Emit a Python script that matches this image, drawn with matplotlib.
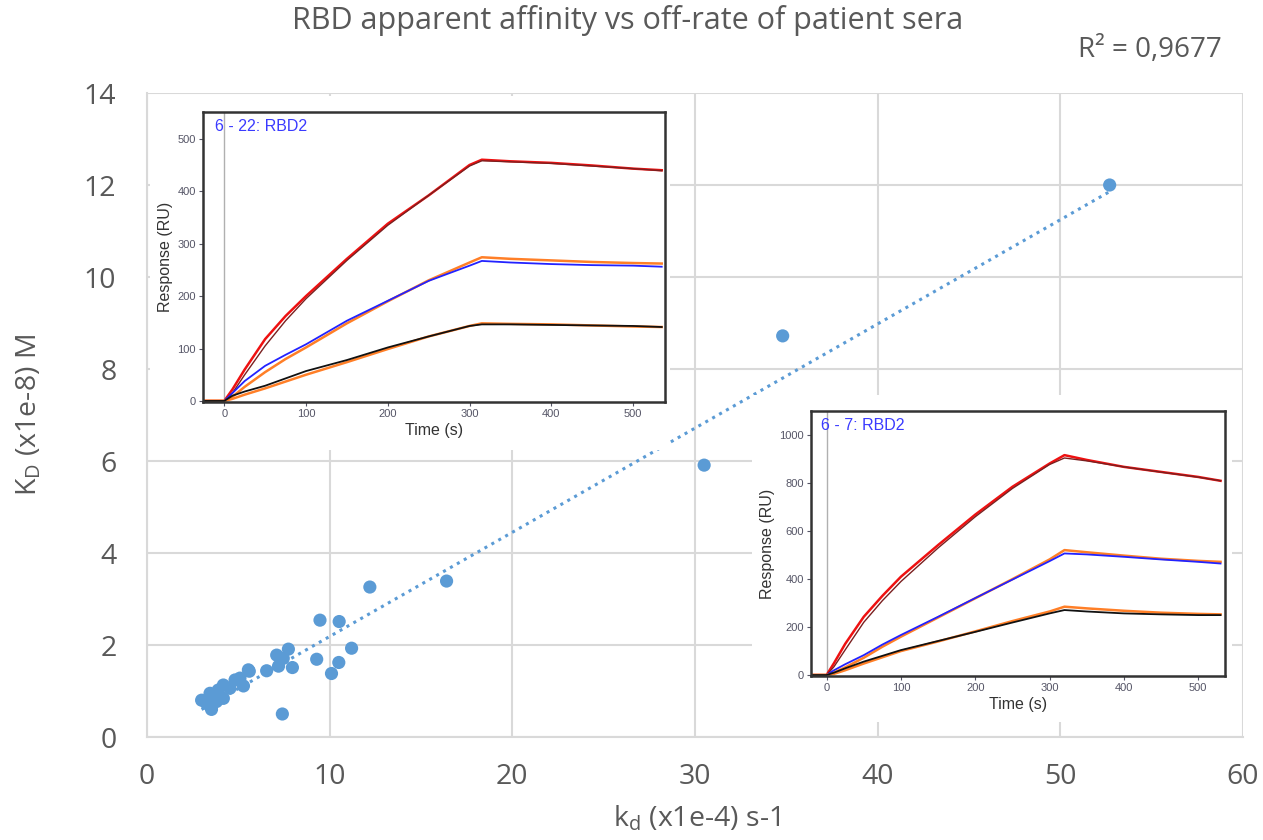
import numpy as np
import matplotlib
matplotlib.use("Agg")
import matplotlib.pyplot as plt

plt.rcParams['font.family'] = ['Open Sans', 'DejaVu Sans']
plt.rcParams['mathtext.fontset'] = 'custom'
plt.rcParams['mathtext.rm'] = 'Open Sans'
plt.rcParams['mathtext.it'] = 'Open Sans:italic'

# ---- main scatter data: kd (x1e-4 s-1) vs KD (x1e-8 M)
kd = [52.7, 34.8, 30.5, 16.4, 12.2, 9.47, 10.52, 11.2, 9.29, 10.5, 10.1, 7.96,
      7.74, 7.1, 7.46, 7.2, 6.55, 7.41, 5.55, 5.28, 4.82, 4.18, 3.9, 4.18,
      3.45, 2.99, 3.26, 3.53, 3.8, 4.54, 5.09, 5.6]
KD = [12.0, 8.72, 5.91, 3.39, 3.26, 2.54, 2.51, 1.93, 1.69, 1.62, 1.38, 1.51,
      1.91, 1.78, 1.71, 1.54, 1.44, 0.50, 1.46, 1.11, 1.24, 1.13, 1.02, 0.84,
      0.95, 0.80, 0.73, 0.60, 0.77, 1.06, 1.28, 1.43]
r2_text = "R² = 0,9677"

# ---- inset 1 sensorgram (6 - 22: RBD2)
t1 = [-25, 0, 10, 25, 50, 75, 100, 150, 200, 250, 300, 315, 350, 400, 450, 500, 535]
i1_red = [0, 0, 22, 60, 118, 162, 200, 271, 338, 392, 450, 460, 457, 454, 449, 443, 440]
i1_redfit = [0, 0, 15, 50, 105, 153, 195, 268, 335, 392, 448, 458, 456, 453, 448, 443, 439]
i1_blue = [0, 0, 15, 38, 67, 88, 108, 153, 191, 229, 258, 267, 264, 261, 259, 258, 256]
i1_bluefit = [0, 0, 8, 27, 55, 80, 102, 148, 190, 230, 264, 274, 271, 268, 265, 263, 262]
i1_black = [0, 0, 10, 18, 29, 43, 57, 78, 102, 123, 143, 146, 146, 145, 144, 143, 141]
i1_blackfit = [0, 0, 4, 12, 24, 37, 50, 74, 99, 123, 143, 148, 147, 146, 144, 142, 141]

# ---- inset 2 sensorgram (6 - 7: RBD2)
t2 = [-20, 0, 10, 25, 50, 75, 100, 150, 200, 250, 300, 320, 350, 400, 450, 500, 530]
i2_red = [0, 0, 50, 130, 243, 330, 410, 542, 669, 785, 882, 917, 897, 868, 847, 826, 810]
i2_redfit = [0, 0, 35, 105, 220, 310, 390, 530, 660, 778, 878, 905, 893, 868, 846, 825, 810]
i2_blue = [0, 0, 20, 45, 83, 127, 167, 243, 321, 398, 475, 507, 503, 493, 482, 472, 465]
i2_bluefit = [0, 0, 10, 32, 72, 118, 160, 240, 320, 400, 482, 521, 512, 498, 485, 476, 472]
i2_black = [0, 0, 10, 28, 56, 80, 104, 142, 180, 219, 257, 271, 265, 257, 253, 250, 250]
i2_blackfit = [0, 0, 5, 20, 48, 74, 100, 140, 182, 225, 265, 285, 278, 268, 260, 255, 253]

W, H = 1263, 840
fig = plt.figure(figsize=(W / 100, H / 100), dpi=100)

def px_axes(l, t, r, b, **kw):
    return fig.add_axes([l / W, (H - b) / H, (r - l) / W, (b - t) / H], **kw)

txt = '#595959'
grid = '#d9d9d9'
blue_pt = '#5B9BD5'

ax = px_axes(147, 93, 1243, 737)
ax.set_xlim(0, 60)
ax.set_ylim(0, 14)
ax.set_xticks(range(0, 61, 10))
ax.set_yticks(range(0, 15, 2))
ax.grid(True, color=grid, lw=1.5)
ax.set_axisbelow(True)
for s in ['top', 'right']:
    ax.spines[s].set_visible(False)
for s in ['left', 'bottom']:
    ax.spines[s].set_color(grid)
    ax.spines[s].set_linewidth(1.5)
ax.tick_params(length=0, labelsize=20.5, colors=txt)
ax.tick_params(axis='x', pad=19)
ax.tick_params(axis='y', pad=22)
ax.scatter(kd, KD, s=90, color=blue_pt, zorder=3, edgecolors='none')
coef = np.polyfit(kd, KD, 1)
xs = np.array([min(kd), max(kd)])
ax.plot(xs, np.polyval(coef, xs), ls=(0, (1, 1.6)), color=blue_pt, lw=2.2, zorder=2)
ax.set_xlabel(r'k$_\mathrm{d}$ (x1e-4) s-1', fontsize=20.5, color=txt)
ax.set_ylabel(r'K$_\mathrm{D}$ (x1e-8) M', fontsize=20.5, color=txt)
ax.xaxis.set_label_coords((697 - 147) / 1096, -(804 - 737) / 644)
ax.yaxis.set_label_coords(-(147 - 44) / 1096, 0.5)
fig.text(628 / W, 1 - 21 / H, 'RBD apparent affinity vs off-rate of patient sera',
         ha='center', va='center', fontsize=22, color=txt)
fig.text(1222 / W, 1 - 50 / H, r2_text, ha='right', va='center', fontsize=20, color=txt)

def inset(bg, box, t, series, ylim, xlim, yticks, title):
    bgax = px_axes(*bg)
    bgax.set_facecolor('white')
    bgax.set_xticks([]); bgax.set_yticks([])
    for s in bgax.spines.values():
        s.set_visible(False)
    a = px_axes(*box)
    a.set_xlim(*xlim)
    a.set_ylim(*ylim)
    a.set_yticks(yticks)
    a.set_xticks(range(0, 501, 100))
    a.axvline(0, color='#b0b0b0', lw=1, zorder=1)
    for y, c, lw in series:
        a.plot(t, y, color=c, lw=lw, zorder=2)
    for s in a.spines.values():
        s.set_color('#333333')
        s.set_linewidth(1.8)
    a.tick_params(labelsize=8, colors='#555566', length=3, width=0.8, pad=2)
    a.set_xlabel('Time (s)', fontsize=11.5, family=['Liberation Sans'], color='#333333', labelpad=3)
    a.set_ylabel('Response (RU)', fontsize=11.5, family=['Liberation Sans'], color='#333333', labelpad=3)
    for lab in a.get_xticklabels() + a.get_yticklabels():
        lab.set_family(['Liberation Sans'])
    a.text(0.025, 0.975, title, transform=a.transAxes, ha='left', va='top',
           fontsize=11.5, color='#3a3aff', family=['Liberation Sans'])
    return a

inset((150, 96, 670, 450), (203, 112, 665, 402), t1,
      [(i1_red, '#ee1111', 1.8), (i1_redfit, '#7a2020', 1.0),
       (i1_bluefit, '#ff7f27', 1.8), (i1_blue, '#2222ff', 1.3),
       (i1_blackfit, '#ff7f27', 1.8), (i1_black, '#111111', 1.3)],
      (-2, 551), (-26, 539), range(0, 501, 100), '6 - 22: RBD2')

inset((752, 395, 1232, 722), (811, 411, 1225, 676), t2,
      [(i2_red, '#ee1111', 1.8), (i2_redfit, '#7a2020', 1.0),
       (i2_bluefit, '#ff7f27', 1.8), (i2_blue, '#2222ff', 1.3),
       (i2_blackfit, '#ff7f27', 1.8), (i2_black, '#111111', 1.3)],
      (-4, 1101), (-21, 536), range(0, 1001, 200), '6 - 7: RBD2')

fig.savefig('out.png', dpi=100, facecolor='white')
